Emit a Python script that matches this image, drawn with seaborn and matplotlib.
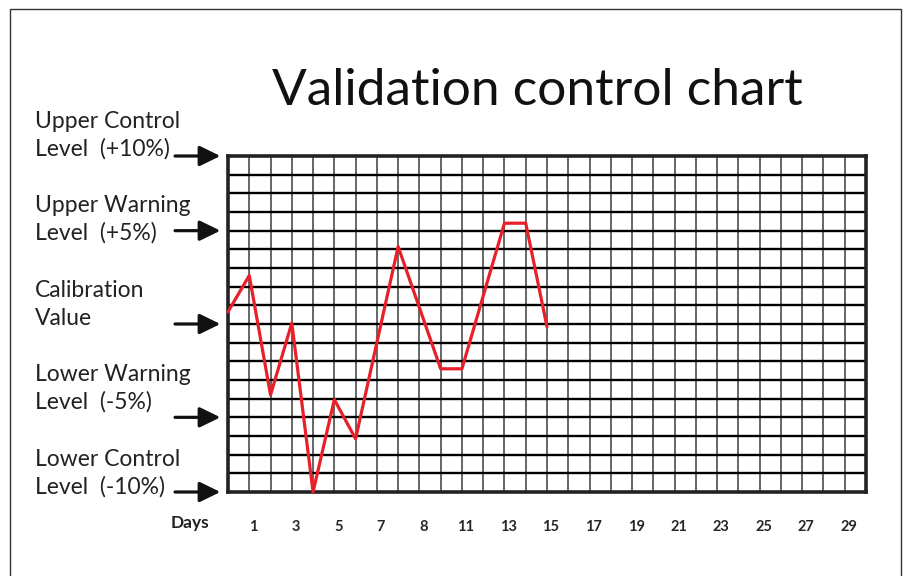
import numpy as np
import pandas as pd
import matplotlib.pyplot as plt
import seaborn as sns
from matplotlib.lines import Line2D
from matplotlib.transforms import ScaledTranslation

# readings, in grid rows from the calibration value (+9 = upper control, -9 = lower control)
days = [0, 1, 2, 3, 4, 5, 6, 8, 10, 11, 13, 14, 15]
values = [0.65, 2.6, -3.8, 0.05, -9.0, -4.05, -6.15, 4.15, -2.4, -2.4, 5.4, 5.4, -0.15]

tick_pos = [1, 3, 5, 7, 9, 11, 13, 15, 17, 19, 21, 23, 25, 27, 29]
tick_labels = ['1', '3', '5', '7', '8', '11', '13', '15', '17', '19', '21', '23', '25', '27', '29']

level_names = [('Upper Control', 'Level  (+10%)'), ('Upper Warning', 'Level  (+5%)'),
               ('Calibration', 'Value'), ('Lower Warning', 'Level  (-5%)'),
               ('Lower Control', 'Level  (-10%)')]
level_vals = [9, 5, 0, -5, -9]

sns.set_style('white')
plt.rcParams['font.family'] = ['Lato', 'DejaVu Sans']

W, H = 906, 576
fig = plt.figure(figsize=(W / 100, H / 100), dpi=100)
ax = fig.add_axes([228 / W, 1 - 492 / H, (866 - 228) / W, (492 - 156) / H])

df = pd.DataFrame({'day': days, 'value': values})

# grid paper
for x in range(1, 30):
    ax.axvline(x, color='#5a5a5a', lw=1.3, zorder=1)
for y in range(-8, 9):
    ax.axhline(y, color='black', lw=1.7, zorder=1)

sns.lineplot(data=df, x='day', y='value', color='#e8202a', lw=2.3, ax=ax, zorder=3, clip_on=False)

ax.set_xlim(0, 30)
ax.set_ylim(-9, 9)
ax.set_yticks([])
ax.set_xticks(tick_pos)
ax.set_xticklabels(tick_labels, fontweight='bold', fontsize=10.5)
ax.tick_params(axis='x', length=0, pad=20)
for lab in ax.get_xticklabels():
    lab.set_transform(lab.get_transform() + ScaledTranslation(4 / 100, 0, fig.dpi_scale_trans))
ax.set_xlabel('')
ax.set_ylabel('')
for s in ax.spines.values():
    s.set_visible(True)
    s.set_color('#222222')
    s.set_linewidth(2.6)

# arrows pointing at each level
for v in level_vals:
    ax.annotate('', xy=(-0.012, v), xytext=(-0.083, v),
                xycoords=ax.get_yaxis_transform(), textcoords=ax.get_yaxis_transform(),
                arrowprops=dict(arrowstyle='-|>,head_length=0.45,head_width=0.22',
                                color='#111111', lw=2.3, mutation_scale=28, shrinkA=0, shrinkB=0),
                annotation_clip=False)

# level labels
first_base = [128, 212, 297, 381, 466]
for (l1, l2), yb in zip(level_names, first_base):
    fig.text(35 / W, 1 - yb / H, l1, fontsize=16.5, color='#222222', va='baseline', ha='left')
    fig.text(35 / W, 1 - (yb + 28) / H, l2, fontsize=16.5, color='#222222', va='baseline', ha='left')

fig.text(190 / W, 1 - 523 / H, 'Days', fontsize=12.5, fontweight='bold', color='#222222',
         ha='center', va='center')

fig.text(537 / W, 1 - 105 / H, 'Validation control chart', fontsize=37,
         color='#111111', ha='center', va='baseline')

# outer frame (open at the bottom)
fig.add_artist(Line2D([10 / W, 10 / W, 901 / W, 901 / W], [0, 1 - 9 / H, 1 - 9 / H, 0],
                      transform=fig.transFigure, color='#333333', lw=1.0))

fig.savefig('out.png', dpi=100)
